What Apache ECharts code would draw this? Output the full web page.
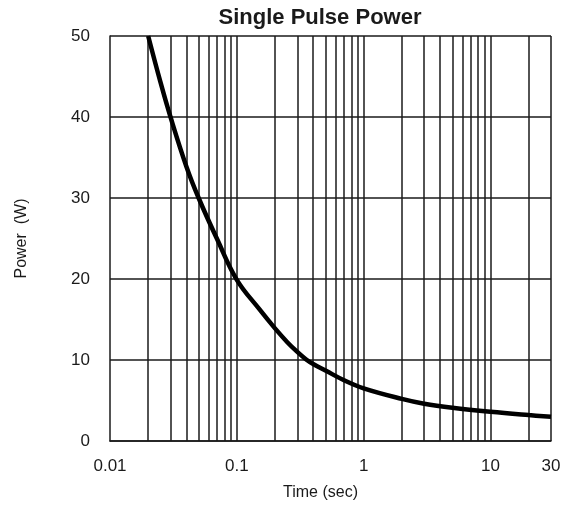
<html>
<head>
    <meta charset="utf-8" />
    <title>Single Pulse Power</title>
</head>
<body style="margin:0">
    <div id="main" style="width: 569px;height:513px;"></div>
    <script src="https://cdn.jsdelivr.net/npm/echarts@6/dist/echarts.min.js"></script>
    <script type="text/javascript">
        var myChart = echarts.init(document.getElementById('main'));

        // pulse width (sec) and power (W)
        var times = [0.02, 0.025, 0.03, 0.04, 0.05, 0.07, 0.1, 0.15, 0.2, 0.25, 0.3, 0.35, 0.4, 0.5, 0.7, 1, 2, 3, 5, 10, 20, 30];
        var power = [50, 44.3, 40, 33.9, 30, 24.9, 19.9, 16.3, 13.9, 12.2, 11.0, 10.1, 9.5, 8.7, 7.5, 6.5, 5.2, 4.6, 4.1, 3.6, 3.2, 3.0];

        // log paper grid lines and tick labels
        var gridTimes = [0.02, 0.03, 0.04, 0.05, 0.06, 0.07, 0.08, 0.09, 0.1,
            0.2, 0.3, 0.4, 0.5, 0.6, 0.7, 0.8, 0.9, 1,
            2, 3, 4, 5, 6, 7, 8, 9, 10, 20, 30];
        var xLabels = [0.01, 0.1, 1, 10, 30];
        var yTicks = [0, 10, 20, 30, 40, 50];

        var ink = '#1a1a1a';
        var font = "'Liberation Sans', Arial, sans-serif";

        var curve = [];
        for (var i = 0; i < times.length; i++) {
            curve.push([times[i], power[i]]);
        }

        var option = {
            animation: false,
            backgroundColor: '#fff',
            title: {
                text: 'Single Pulse Power',
                left: 315,
                top: 2,
                textAlign: 'center',
                textStyle: { fontFamily: font, fontSize: 22, fontWeight: 'bold', color: ink }
            },
            grid: { left: 110, right: 18, top: 36, bottom: 72 },
            xAxis: {
                type: 'log',
                logBase: 10,
                min: 0.01,
                max: 30,
                name: 'Time (sec)',
                nameLocation: 'middle',
                nameGap: 44,
                nameTextStyle: { fontFamily: font, fontSize: 16, color: ink, padding: [0, 20, 0, 0] },
                axisLine: { lineStyle: { color: ink, width: 1.5 } },
                axisTick: { show: false },
                splitLine: { show: false },
                axisLabel: {
                    customValues: xLabels,
                    margin: 17,
                    fontFamily: font,
                    fontSize: 17,
                    color: ink
                }
            },
            yAxis: {
                type: 'value',
                min: yTicks[0],
                max: yTicks[yTicks.length - 1],
                interval: 10,
                name: 'Power  (W)',
                nameLocation: 'middle',
                nameRotate: 90,
                nameGap: 80,
                nameTextStyle: { fontFamily: font, fontSize: 16, color: ink },
                axisLine: { show: true, lineStyle: { color: ink, width: 1.5 } },
                axisTick: { show: false },
                splitLine: { lineStyle: { color: ink, width: 1.5 } },
                axisLabel: { margin: 20, fontFamily: font, fontSize: 17, color: ink }
            },
            series: [
                {
                    type: 'line',
                    data: curve,
                    smooth: 0.4,
                    symbol: 'none',
                    lineStyle: { color: '#000', width: 4.5 },
                    z: 5,
                    markLine: {
                        silent: true,
                        symbol: 'none',
                        label: { show: false },
                        lineStyle: { color: ink, width: 1.5, type: 'solid' },
                        data: gridTimes.map(function (t) { return { xAxis: t }; })
                    }
                }
            ]
        };

        myChart.setOption(option);
    </script>
</body>
</html>
